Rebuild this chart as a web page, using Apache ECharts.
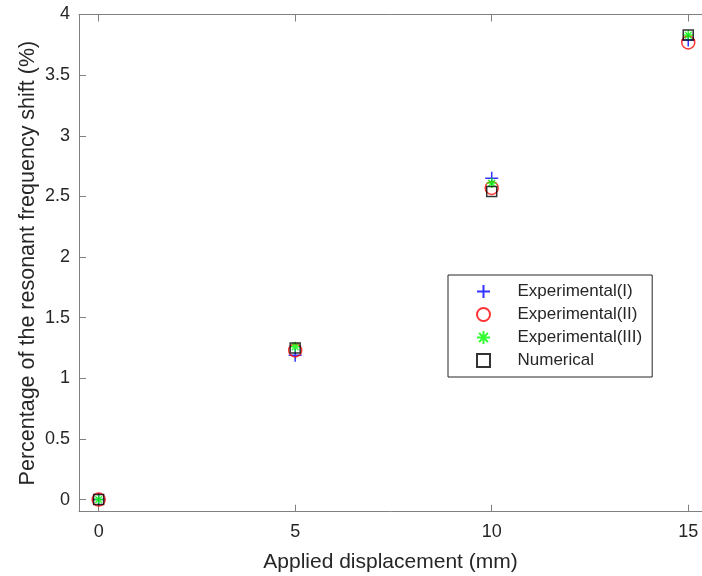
<!DOCTYPE html>
<html>
<head>
<meta charset="utf-8">
<script src="https://cdn.jsdelivr.net/npm/echarts@6/dist/echarts.min.js"></script>
<style>
html,body{margin:0;padding:0;background:#fff;}
#main{width:702px;height:576px;}
</style>
</head>
<body>
<div id="main"></div>
<script>
var xValues = [0, 5, 10, 15];
var expI = [0, 1.19, 2.65, 3.79];
var expII = [0, 1.23, 2.57, 3.77];
var expIII = [0, 1.26, 2.61, 3.83];
var numerical = [0, 1.25, 2.54, 3.83];
var xTicks = [0, 5, 10, 15];
var yTicks = [0, 0.5, 1, 1.5, 2, 2.5, 3, 3.5, 4];
var seriesNames = ['Experimental(I)', 'Experimental(II)', 'Experimental(III)', 'Numerical'];

function pairs(vals) { return xValues.map(function (x, i) { return [x, vals[i]]; }); }

var FONT = '"Liberation Sans", Arial, sans-serif';
var AX = '#808080';
var TXT = '#262626';

var PLUS = 'path://M6,0L6,12M0,6L12,6';
var STAR = 'path://M5,0L5,10M0,5L10,5M1.6,1.6L8.4,8.4M1.6,8.4L8.4,1.6';
var SQUARE = 'path://M0,0L10,0L10,10L0,10Z';

var chart = echarts.init(document.getElementById('main'), null, {renderer: 'canvas'});

var xAxisBase = {
  type: 'value', min: -0.5, max: 15.35,
  axisLine: {show: true, onZero: false, lineStyle: {color: AX, width: 1}},
  axisTick: {show: true, inside: true, length: 7, customValues: xTicks, lineStyle: {color: AX}},
  splitLine: {show: false}
};

chart.setOption({
  animation: false,
  textStyle: {fontFamily: FONT},
  grid: {left: 79, right: 0, top: 14.5, bottom: 64.3, containLabel: false, outerBoundsMode: 'none'},
  xAxis: [
    Object.assign({}, xAxisBase, {
      position: 'bottom',
      name: 'Applied displacement (mm)',
      nameLocation: 'middle', nameGap: 40, nameMoveOverlap: false,
      nameTextStyle: {fontSize: 21, color: TXT, fontFamily: FONT},
      axisLabel: {show: true, customValues: xTicks, fontSize: 18, color: TXT, margin: 11, fontFamily: FONT}
    }),
    Object.assign({}, xAxisBase, {
      position: 'top',
      axisLabel: {show: false}
    })
  ],
  yAxis: {
    type: 'value', min: -0.1, max: 4,
    name: 'Percentage of the resonant frequency shift (%)',
    nameLocation: 'middle', nameGap: 40, nameMoveOverlap: false,
    nameTextStyle: {fontSize: 21.5, color: TXT, fontFamily: FONT},
    axisLine: {show: true, onZero: false, lineStyle: {color: AX, width: 1}},
    axisTick: {show: true, inside: true, length: 7, customValues: yTicks, lineStyle: {color: AX}},
    axisLabel: {show: true, customValues: yTicks, fontSize: 18, color: TXT, margin: 9, fontFamily: FONT},
    splitLine: {show: false}
  },
  legend: {
    orient: 'vertical',
    left: 448, top: 275,
    backgroundColor: '#fff',
    borderColor: '#262626', borderWidth: 1,
    padding: [8, 10, 8, 28],
    itemWidth: 58, itemHeight: 13, itemGap: 6,
    textStyle: {fontSize: 17, color: TXT, fontFamily: FONT},
    data: [
      {name: seriesNames[0]},
      {name: seriesNames[1]},
      {name: seriesNames[2], icon: STAR},
      {name: seriesNames[3], icon: SQUARE}
    ]
  },
  series: [
    {
      name: seriesNames[0], type: 'scatter', data: pairs(expI),
      symbol: PLUS, symbolSize: 13,
      itemStyle: {color: 'transparent', borderColor: '#0000ff', borderWidth: 1.5}
    },
    {
      name: seriesNames[1], type: 'scatter', data: pairs(expII),
      symbol: 'circle', symbolSize: 13,
      itemStyle: {color: 'transparent', borderColor: '#ff0000', borderWidth: 1.5}
    },
    {
      name: seriesNames[2], type: 'scatter', data: pairs(expIII),
      symbol: STAR, symbolSize: 10,
      itemStyle: {color: 'transparent', borderColor: '#00ff00', borderWidth: 1.5}
    },
    {
      name: seriesNames[3], type: 'scatter', data: pairs(numerical),
      symbol: SQUARE, symbolSize: 10,
      itemStyle: {color: 'transparent', borderColor: '#000000', borderWidth: 1.5}
    }
  ]
});
</script>
</body>
</html>
